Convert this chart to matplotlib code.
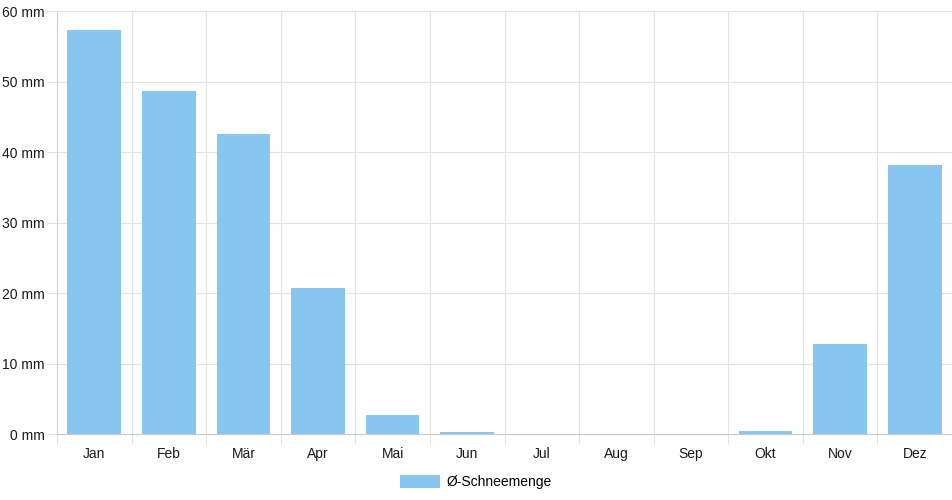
import matplotlib
matplotlib.use("Agg")
import matplotlib.pyplot as plt
from matplotlib.patches import Patch

months = ["Jan", "Feb", "Mär", "Apr", "Mai", "Jun", "Jul", "Aug", "Sep", "Okt", "Nov", "Dez"]
snow = [57.3, 48.7, 42.5, 20.7, 2.8, 0.3, 0.0, 0.0, 0.0, 0.4, 12.8, 38.2]
yticks = [0, 10, 20, 30, 40, 50, 60]
series_label = "Ø-Schneemenge"

plt.rcParams['font.family'] = ['Liberation Sans', 'DejaVu Sans']

W, H = 952, 500
fig = plt.figure(figsize=(W / 100, H / 100), dpi=100)
left, right, top, bottom = 57, 952, 11, 434.3
ax = fig.add_axes([left / W, 1 - bottom / H, (right - left) / W, (bottom - top) / H])

bar_color = "#88c5f1"
x = list(range(len(months)))
ax.bar(x, snow, width=0.72, color=bar_color, zorder=2)

ax.set_xlim(-0.5, len(months) - 0.5)
ax.set_ylim(0, 60)
ax.set_yticks(yticks)
ax.set_yticklabels([f"{v} mm" for v in yticks], fontsize=10, color="#1a1a1a")
ax.set_xticks(x)
ax.set_xticklabels(months, fontsize=10, color="#1a1a1a")

# grid lines at category boundaries
ax.set_xticks([i - 0.5 for i in range(len(months) + 1)], minor=True)
ax.grid(True, which="minor", axis="x", color="#e3e3e3", linewidth=0.8, zorder=0)
ax.grid(True, which="major", axis="y", color="#e3e3e3", linewidth=0.8, zorder=0)
ax.tick_params(axis="x", which="major", length=0, pad=9)
ax.tick_params(axis="x", which="minor", length=7, color="#e3e3e3", width=0.8)
ax.tick_params(axis="y", length=7.5, color="#e3e3e3", width=0.8, pad=1.5)

for s in ["top", "right"]:
    ax.spines[s].set_visible(False)
ax.spines["left"].set_color("#d0d0d0")
ax.spines["bottom"].set_color("#c8c8c8")
ax.spines["left"].set_linewidth(0.8)
ax.spines["bottom"].set_linewidth(0.8)

handle = Patch(facecolor=bar_color, edgecolor="none", label=series_label)
fig.legend(handles=[handle], loc="center", bbox_to_anchor=(476 / W, 1 - 482 / H),
           frameon=False, fontsize=10, handlelength=2.9, handleheight=1.1, handletextpad=0.5)

fig.savefig("out.png", dpi=100)
